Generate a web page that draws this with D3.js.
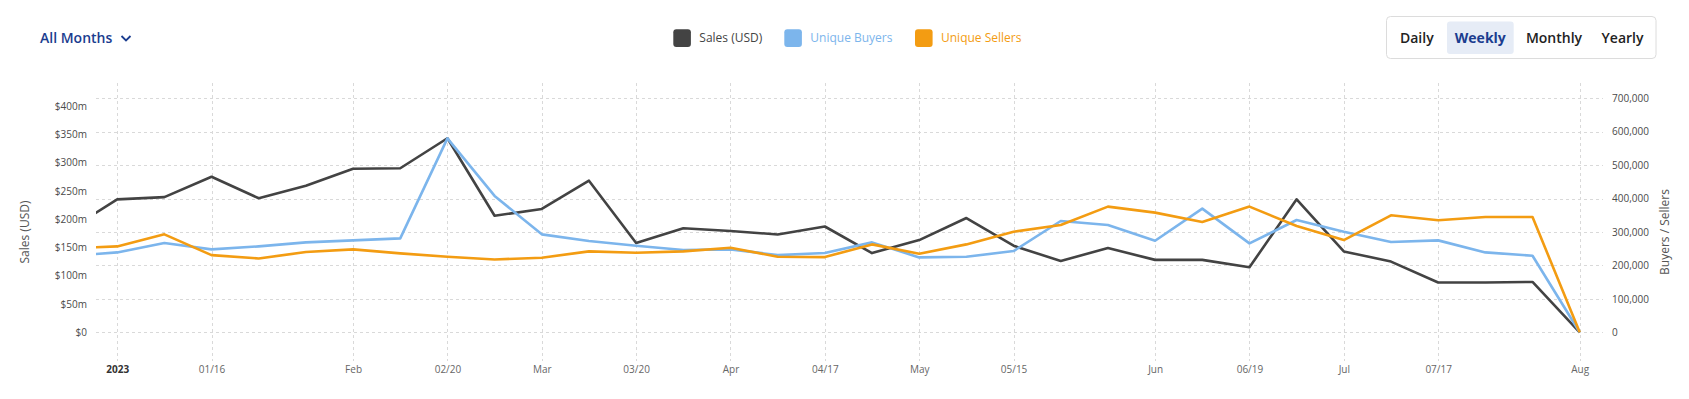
<!DOCTYPE html>
<html>
<head>
<meta charset="utf-8">
<script src="https://cdn.jsdelivr.net/npm/d3@7"></script>
<style>
  body { margin: 0; background: #fff; }
  svg { display: block; font-family: "Open Sans", sans-serif; }
</style>
</head>
<body>
<svg id="chart" width="1689" height="399"></svg>
<script>
// weekly buckets (Mondays)
const weeks = [
  "2022-12-26", "2023-01-02", "2023-01-09", "2023-01-16", "2023-01-23", "2023-01-30",
  "2023-02-06", "2023-02-13", "2023-02-20", "2023-02-27", "2023-03-06", "2023-03-13",
  "2023-03-20", "2023-03-27", "2023-04-03", "2023-04-10", "2023-04-17", "2023-04-24",
  "2023-05-01", "2023-05-08", "2023-05-15", "2023-05-22", "2023-05-29", "2023-06-05",
  "2023-06-12", "2023-06-19", "2023-06-26", "2023-07-03", "2023-07-10", "2023-07-17",
  "2023-07-24", "2023-07-31", "2023-08-07"
];

// sales in millions of USD
const sales = [182, 235, 239, 275, 237, 259, 289, 290, 343, 206, 218, 268, 158, 184, 179, 173,
  187, 140, 163, 202, 153, 126, 149, 128, 128, 115, 235, 143, 125, 88, 88, 89, 0];
const buyers = [228000, 239000, 267000, 248000, 257000, 269000, 275000, 281000, 580000, 408000,
  293000, 273000, 259000, 246000, 248000, 231000, 237000, 269000, 224000, 226000, 243000,
  333000, 321000, 274000, 370000, 266000, 336000, 301000, 270000, 275000, 239000, 229000, 0];
const sellers = [251000, 257000, 293000, 231000, 221000, 240000, 248000, 236000, 226000, 218000,
  223000, 242000, 238000, 242000, 253000, 226000, 225000, 263000, 235000, 263000, 301000,
  321000, 376000, 358000, 330000, 376000, 318000, 276000, 350000, 335000, 345000, 345000, 0];

const tickDates = ["2023-01-02", "2023-01-16", "2023-02-06", "2023-02-20", "2023-03-06",
  "2023-03-20", "2023-04-03", "2023-04-17", "2023-05-01", "2023-05-15", "2023-06-05",
  "2023-06-19", "2023-07-03", "2023-07-17", "2023-08-07"];
const tickLabels = ["2023", "01/16", "Feb", "02/20", "Mar", "03/20", "Apr", "04/17", "May",
  "05/15", "Jun", "06/19", "Jul", "07/17", "Aug"];

const salesTicks = [0, 50, 100, 150, 200, 250, 300, 350, 400];
const countTicks = [0, 100000, 200000, 300000, 400000, 500000, 600000, 700000];

const periods = ["Daily", "Weekly", "Monthly", "Yearly"];

const parse = d3.utcParse("%Y-%m-%d");
const dates = weeks.map(parse);

const svg = d3.select("#chart");

const plotLeft = 96, plotRight = 1603, plotTop = 83, plotBottom = 361;

const x = d3.scaleUtc()
    .domain(d3.extent(dates))
    .range([70, 1579.7]);

const yLeft = d3.scaleLinear().domain([0, 400]).range([332.3, 106]);
const yRight = d3.scaleLinear().domain([0, 700000]).range([332.3, 98.3]);

// header: month picker
const picker = svg.append("g").attr("fill", "#1b3d8f");
picker.append("text")
    .attr("x", 40).attr("y", 38)
    .attr("dy", "0.35em")
    .attr("font-size", 14)
    .attr("font-weight", 600)
    .text("All Months");
picker.append("path")
    .attr("d", "M121.5,36 L126,40.5 L130.5,36")
    .attr("fill", "none")
    .attr("stroke", "#1b3d8f")
    .attr("stroke-width", 1.8);

// legend
const legendItems = [
  { name: "Sales (USD)", color: "#434343", text: "#444", sx: 673.3 },
  { name: "Unique Buyers", color: "#7cb5ec", text: "#7cb5ec", sx: 784.3 },
  { name: "Unique Sellers", color: "#f39c12", text: "#f39c12", sx: 915 }
];
const legend = svg.append("g");
legendItems.forEach(d => {
  legend.append("rect")
      .attr("x", d.sx).attr("y", 29.3)
      .attr("width", 17.6).attr("height", 17.6)
      .attr("rx", 3)
      .attr("fill", d.color);
  legend.append("text")
      .attr("x", d.sx + 26).attr("y", 38)
      .attr("dy", "0.35em")
      .attr("font-size", 12)
      .attr("fill", d.text)
      .text(d.name);
});

// period buttons
const btn = svg.append("g");
btn.append("rect")
    .attr("x", 1386.5).attr("y", 16.5)
    .attr("width", 269.5).attr("height", 42)
    .attr("rx", 4)
    .attr("fill", "#fff")
    .attr("stroke", "#dcdcdc");
btn.append("rect")
    .attr("x", 1447).attr("y", 21.5)
    .attr("width", 66.7).attr("height", 32.5)
    .attr("rx", 3)
    .attr("fill", "#e6ecf6");
const btnCenters = [1416.8, 1480.3, 1554, 1622.5];
btn.selectAll("text.period")
  .data(periods)
  .join("text")
    .attr("class", "period")
    .attr("x", (d, i) => btnCenters[i])
    .attr("y", 38)
    .attr("dy", "0.35em")
    .attr("text-anchor", "middle")
    .attr("font-size", 14)
    .attr("font-weight", d => d === "Weekly" ? 700 : 600)
    .attr("fill", d => d === "Weekly" ? "#1b3d8f" : "#222")
    .text(d => d);

// grid
const grid = svg.append("g")
    .attr("stroke", "#d9d9d9")
    .attr("stroke-dasharray", "3,3")
    .attr("stroke-width", 1);
grid.selectAll("line.h")
  .data(countTicks)
  .join("line")
    .attr("class", "h")
    .attr("x1", plotLeft).attr("x2", plotRight)
    .attr("y1", d => Math.round(yRight(d)) + 0.5)
    .attr("y2", d => Math.round(yRight(d)) + 0.5);
grid.selectAll("line.v")
  .data(tickDates)
  .join("line")
    .attr("class", "v")
    .attr("x1", d => Math.round(x(parse(d))) + 0.5)
    .attr("x2", d => Math.round(x(parse(d))) + 0.5)
    .attr("y1", plotTop).attr("y2", plotBottom);

// left axis
const leftAxis = svg.append("g")
    .attr("transform", `translate(${plotLeft - 9},0)`)
    .call(d3.axisLeft(yLeft)
      .tickValues(salesTicks)
      .tickSize(0)
      .tickPadding(0)
      .tickFormat(d => d === 0 ? "$0" : `$${d}m`));
leftAxis.select(".domain").remove();
leftAxis.selectAll("text")
    .attr("font-family", "Open Sans, sans-serif")
    .attr("font-size", 10)
    .attr("fill", "#4a4a4a");

svg.append("text")
    .attr("transform", "translate(25,232) rotate(-90)")
    .attr("text-anchor", "middle")
    .attr("dy", "0.35em")
    .attr("font-size", 12)
    .attr("fill", "#555")
    .text("Sales (USD)");

// right axis
const rightAxis = svg.append("g")
    .attr("transform", `translate(${plotRight + 9},0)`)
    .call(d3.axisRight(yRight)
      .tickValues(countTicks)
      .tickSize(0)
      .tickPadding(0)
      .tickFormat(d3.format(",")));
rightAxis.select(".domain").remove();
rightAxis.selectAll("text")
    .attr("font-family", "Open Sans, sans-serif")
    .attr("font-size", 10)
    .attr("fill", "#4a4a4a");

svg.append("text")
    .attr("transform", "translate(1665,232) rotate(-90)")
    .attr("text-anchor", "middle")
    .attr("dy", "0.35em")
    .attr("font-size", 12)
    .attr("fill", "#555")
    .text("Buyers / Sellers");

// bottom axis
const bottomAxis = svg.append("g")
    .attr("transform", `translate(0,366)`)
    .call(d3.axisBottom(x)
      .tickValues(tickDates.map(parse))
      .tickSize(0)
      .tickPadding(0)
      .tickFormat((d, i) => tickLabels[i]));
bottomAxis.select(".domain").remove();
bottomAxis.selectAll("text")
    .attr("font-family", "Open Sans, sans-serif")
    .attr("font-size", 10)
    .attr("fill", (d, i) => i === 0 ? "#333" : "#666")
    .attr("font-weight", (d, i) => i === 0 ? 700 : 400);

// lines
svg.append("clipPath")
    .attr("id", "plot-clip")
  .append("rect")
    .attr("x", plotLeft).attr("y", plotTop - 10)
    .attr("width", plotRight - plotLeft)
    .attr("height", plotBottom - plotTop + 20);

const plot = svg.append("g").attr("clip-path", "url(#plot-clip)");

const seriesList = [
  { values: sales, scale: yLeft, color: "#434343" },
  { values: buyers, scale: yRight, color: "#7cb5ec" },
  { values: sellers, scale: yRight, color: "#f39c12" }
];

seriesList.forEach(s => {
  const line = d3.line()
      .x((d, i) => x(dates[i]))
      .y(d => s.scale(d));
  plot.append("path")
      .datum(s.values)
      .attr("fill", "none")
      .attr("stroke", s.color)
      .attr("stroke-width", 2.6)
      .attr("stroke-linejoin", "round")
      .attr("d", line);
});
</script>
</body>
</html>
